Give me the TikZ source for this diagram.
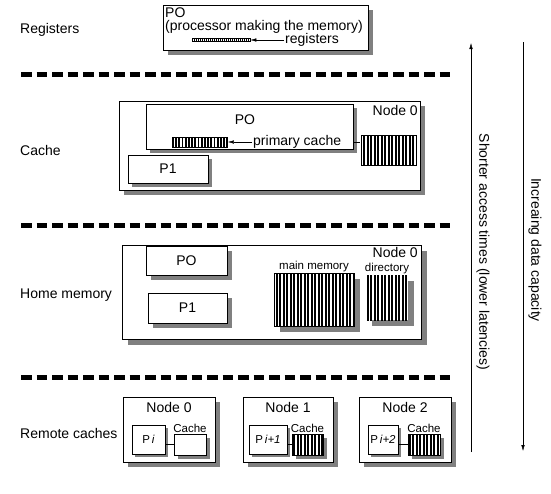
\documentclass[tikz,border=0pt]{standalone}
\usepackage{fontspec}
\setmainfont{Liberation Sans}
\usetikzlibrary{patterns.meta,arrows.meta}

\begin{document}
\begin{tikzpicture}[x=1pt, y=-1pt,
    every node/.style={font=\fontsize{14}{15}\selectfont, inner sep=1pt},
    box/.style={draw, fill=white, inner sep=0pt},
    shd/.style={fill=black!50},
    stripes/.style 2 args={preaction={fill=white}, inner sep=0pt, pattern={Lines[angle=90, distance=#1, line width=#2]}},
    small/.style={font=\fontsize{11.5}{12}\selectfont},
    sep/.style={line width=5pt, dash pattern=on 10.5pt off 5pt},
    arr/.style={draw, -{Latex[length=6pt, width=3.5pt]}}]
    \useasboundingbox (0,0) rectangle (551,493);

    % registers
    \node[anchor=west] (lreg) at (19,30) {Registers};
    \fill[shd] (168,10) rectangle (373,55);
    \node[box, minimum width=205pt, minimum height=45pt] (regbox) at (265.5,27.5) {};
    \node[anchor=west] (pzero) at (164,13) {PO};
    \node[anchor=west] (pdesc) at (164,27) {(processor making the memory)};
    \node[draw, stripes={2pt}{0.8pt}, minimum width=58pt, minimum height=3pt] (regbar) at (221,40) {};
    \node[anchor=west] (reglab) at (284,40) {registers};
    \draw[arr] (reglab) -- (regbar);

    \draw[sep] (21,74) -- (451,74);

    % cache
    \node[anchor=west] (lcache) at (19,150) {Cache};
    \fill[shd] (124,106) rectangle (425,195);
    \node[box, minimum width=301pt, minimum height=89pt] (cnode) at (269.5,145.5) {};
    \node[anchor=east] (cnlab) at (419,110) {Node 0};
    \fill[shd] (150,108) rectangle (357,153);
    \node[box, minimum width=207pt, minimum height=45pt] (czero) at (249.5,126.5) {};
    \node (czlab) at (245,120) {PO};
    \node[draw, stripes={3.2pt}{1.8pt}, minimum width=55pt, minimum height=10pt] (pcbar) at (199.5,142) {};
    \node[anchor=west] (pclab) at (252,142) {primary cache};
    \draw[arr] (pclab) -- (pcbar);
    \node[draw, stripes={3.5pt}{2pt}, minimum width=55pt, minimum height=30pt] (cblock) at (388.5,150) {};
    \draw (czero.east |- pcbar) -- (cblock.west |- pcbar);
    \fill[shd] (132,159) rectangle (212,187);
    \node[box, minimum width=80pt, minimum height=28pt] (cone) at (168,169) {P1};

    \draw[sep] (21,225) -- (451,225);

    % home memory
    \node[anchor=west] (lhome) at (19,295) {Home memory};
    \fill[shd] (128,251) rectangle (427,345);
    \node[box, minimum width=299pt, minimum height=94pt] (hnode) at (271.5,292) {};
    \node[anchor=east] (hnlab) at (419,252) {Node 0};
    \fill[shd] (151,251) rectangle (232,280);
    \node[box, minimum width=81pt, minimum height=29pt] (hzero) at (186.5,260.5) {PO};
    \fill[shd] (153,298) rectangle (232,328);
    \node[box, minimum width=79pt, minimum height=30pt] (hone) at (187.5,308) {P1};
    \fill[shd] (280,279) rectangle (360,332);
    \node[draw, stripes={3.5pt}{2pt}, minimum width=80pt, minimum height=53pt] (mainmem) at (314,299.5) {};
    \node[small, anchor=south] (mmlab) at (mainmem.north) {main memory};
    \fill[shd] (372,281) rectangle (414,326);
    \node[stripes={3.5pt}{2pt}, minimum width=42pt, minimum height=45pt] (dir) at (387,297.5) {};
    \node[small, anchor=south] (dirlab) at (dir.north) {directory};

    \draw[sep] (21,377) -- (451,377);

    % remote caches
    \node[anchor=west] (lremote) at (19,433) {Remote caches};
    \fill[shd] (128,402) rectangle (220,467);
    \fill[shd] (248,402) rectangle (338,467);
    \fill[shd] (364,402) rectangle (456,467);
    \node[box, minimum width=92pt, minimum height=65pt] (rzero) at (169,429.5) {};
    \node[box, minimum width=90pt, minimum height=65pt] (rone) at (288,429.5) {};
    \node[box, minimum width=92pt, minimum height=65pt] (rtwo) at (405,429.5) {};
    \node (rzlab) at (169,407) {Node 0};
    \node (rolab) at (288,407) {Node 1};
    \node (rtlab) at (405,407) {Node 2};

    \fill[shd] (135,428) rectangle (168,457);
    \fill[shd] (252,428) rectangle (290,457);
    \fill[shd] (371,428) rectangle (401,457);
    \node[box, small, minimum width=33pt, minimum height=29pt] (pizero) at (148.5,439.5) {P\,\textit{i}};
    \node[box, small, minimum width=38pt, minimum height=29pt] (pione) at (268,439.5) {P\,\textit{i+1}};
    \node[box, small, minimum width=30pt, minimum height=29pt] (pitwo) at (383,439.5) {P\,\textit{i+2}};

    \fill[shd] (178,438) rectangle (210,459);
    \fill[shd] (296,438) rectangle (327,459);
    \fill[shd] (412,438) rectangle (444,459);
    \node[box, minimum width=32pt, minimum height=21pt] (cazero) at (190,444.5) {};
    \node[draw, stripes={3.5pt}{2pt}, minimum width=31pt, minimum height=21pt] (caone) at (307.5,444.5) {};
    \node[draw, stripes={3.5pt}{2pt}, minimum width=32pt, minimum height=21pt] (catwo) at (424,444.5) {};
    \node[small, anchor=south] (czlab) at (cazero.north) {Cache};
    \node[small, anchor=south] (colab) at (caone.north) {Cache};
    \node[small, anchor=south] (ctlab) at (catwo.north) {Cache};

    \draw (cazero.west -| pizero.east) -- (cazero.west);
    \draw (caone.west -| pione.east) -- (caone.west);
    \draw (catwo.west -| pitwo.east) -- (catwo.west);

    % access time and capacity
    \coordinate (stop) at (471,43);
    \coordinate (sbot) at (471,452);
    \draw[arr] (sbot) -- (stop);
    \node[rotate=-90] (slab) at (483,252) {Shorter access times (lower latencies)};
    \coordinate (itop) at (523,42);
    \coordinate (ibot) at (523,451);
    \draw[arr] (itop) -- (ibot);
    \node[rotate=-90] (ilab) at (535,250) {Increaing data capacity};
  \end{tikzpicture}
\end{document}
